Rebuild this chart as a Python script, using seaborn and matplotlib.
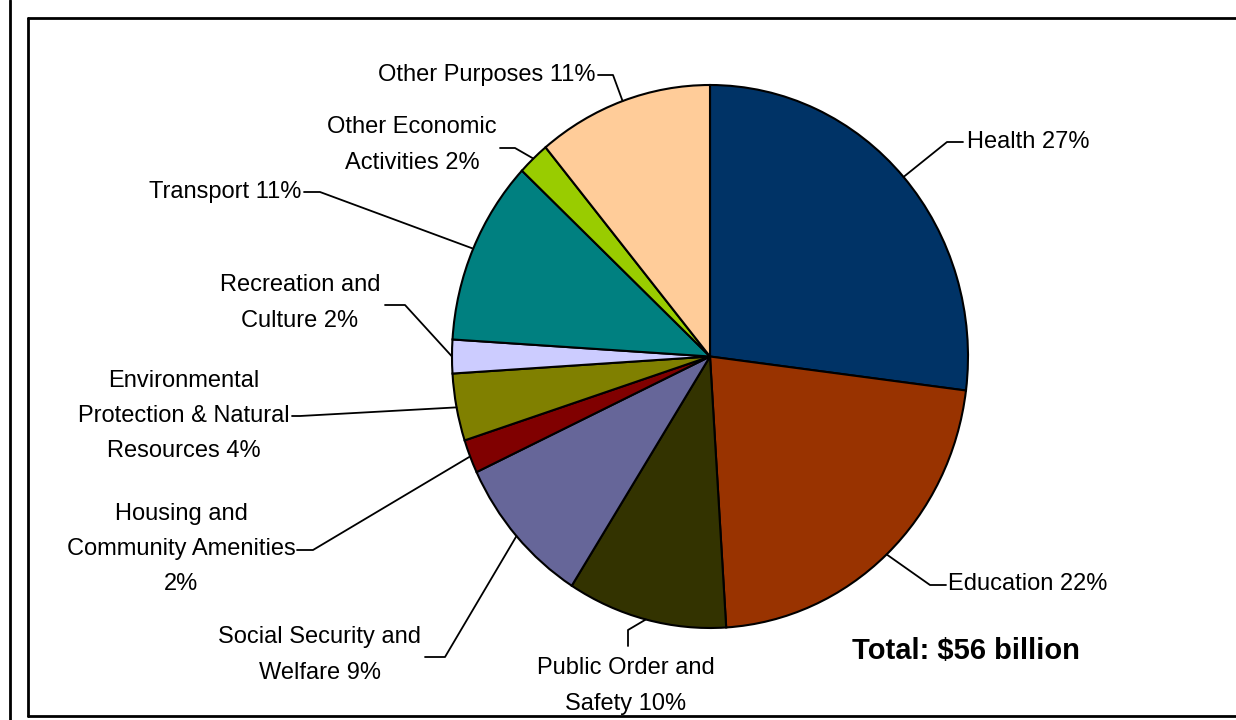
import numpy as np
import matplotlib
matplotlib.use("Agg")
import matplotlib.pyplot as plt
from matplotlib.lines import Line2D
import seaborn as sns

# Expenditure shares by purpose (percent), clockwise from 12 o'clock
categories = [
    "Health", "Education", "Public Order and\nSafety",
    "Social Security and\nWelfare", "Housing and\nCommunity Amenities\n",
    "Environmental\nProtection & Natural\nResources", "Recreation and\nCulture",
    "Transport", "Other Economic\nActivities", "Other Purposes",
]
shares = [27, 22, 10, 9, 2, 4, 2, 11, 2, 11]
colors = ["#003366", "#993300", "#333300", "#666699", "#800000",
          "#808000", "#CCCCFF", "#008080", "#99CC00", "#FFCC99"]
total_text = "Total: $56 billion"

sns.set_theme(style="white")
plt.rcParams["font.family"] = ["Liberation Sans", "DejaVu Sans"]

W, H = 1236, 720
fig = plt.figure(figsize=(W / 100, H / 100), dpi=100)
ax = fig.add_axes([0, 0, 1, 1])

# pie geometry in pixels (slightly taller than wide)
CX, CY, RX, RY = 710, 356.5, 258, 271.5


def to_data(px, py):
    return (px - CX) / RX, (CY - py) / RY


palette = sns.color_palette(colors)
wedges, _ = ax.pie(shares, colors=palette, startangle=90, counterclock=False,
                   radius=1, center=(0, 0),
                   wedgeprops=dict(edgecolor="black", linewidth=1.5))
ax.set_aspect("auto")
x0, _ = to_data(0, 0)
x1, _ = to_data(W, 0)
_, y0 = to_data(0, H)
_, y1 = to_data(0, 0)
ax.set_xlim(x0, x1)
ax.set_ylim(y0, y1)
ax.axis("off")

# label layout: (text anchor px, ha, elbow px, line end px)
layout = [
    ((967, 142), "left", (947, 142), (963, 142)),
    ((948, 584), "left", (930, 585), (946, 585)),
    ((626, 686), "center", (628, 630), (628, 646)),
    ((320, 655), "center", (445, 657), (425, 657)),
    ((181, 549), "center", (313, 550), (297, 550)),
    ((184, 416), "center", (300, 416), (292, 416)),
    ((300, 303), "center", (405, 305), (385, 305)),
    ((301, 192), "right", (320, 192), (304, 192)),
    ((412, 145), "center", (515, 148), (500, 148)),
    ((596, 75), "right", (613, 75), (598, 75)),
]

cum = np.cumsum([0] + shares)
for i, (name, val) in enumerate(zip(categories, shares)):
    mid = np.deg2rad((cum[i] + val / 2) / 100 * 360)
    sx, sy = np.sin(mid), np.cos(mid)
    (tx, ty), ha, (ex, ey), (lx, ly) = layout[i]
    exd, eyd = to_data(ex, ey)
    lxd, lyd = to_data(lx, ly)
    ax.add_line(Line2D([sx, exd, lxd], [sy, eyd, lyd], color="black",
                       linewidth=1.3, clip_on=False))
    if name.endswith("\n"):
        label = name + f"{val}%"
    else:
        label = f"{name} {val}%"
    txd, tyd = to_data(tx, ty)
    ax.text(txd, tyd, label, ha=ha, va="center", fontsize=17,
            color="black", linespacing=1.78, multialignment="center")

tdx, tdy = to_data(966, 651)
ax.text(tdx, tdy, total_text, ha="center", va="center", fontsize=21,
        fontweight="bold", color="black")

# outer frame lines
def fig_line(xs, ys, lw=2.0):
    fig.add_artist(Line2D([x / W for x in xs], [1 - y / H for y in ys],
                          transform=fig.transFigure, color="black",
                          linewidth=lw))

fig_line([10, 10], [0, H])
fig_line([28, W + 5], [18, 18])
fig_line([28, 28], [18, 716])
fig_line([28, W + 5], [716, 716])

fig.savefig("out.png", dpi=100, facecolor="white")
